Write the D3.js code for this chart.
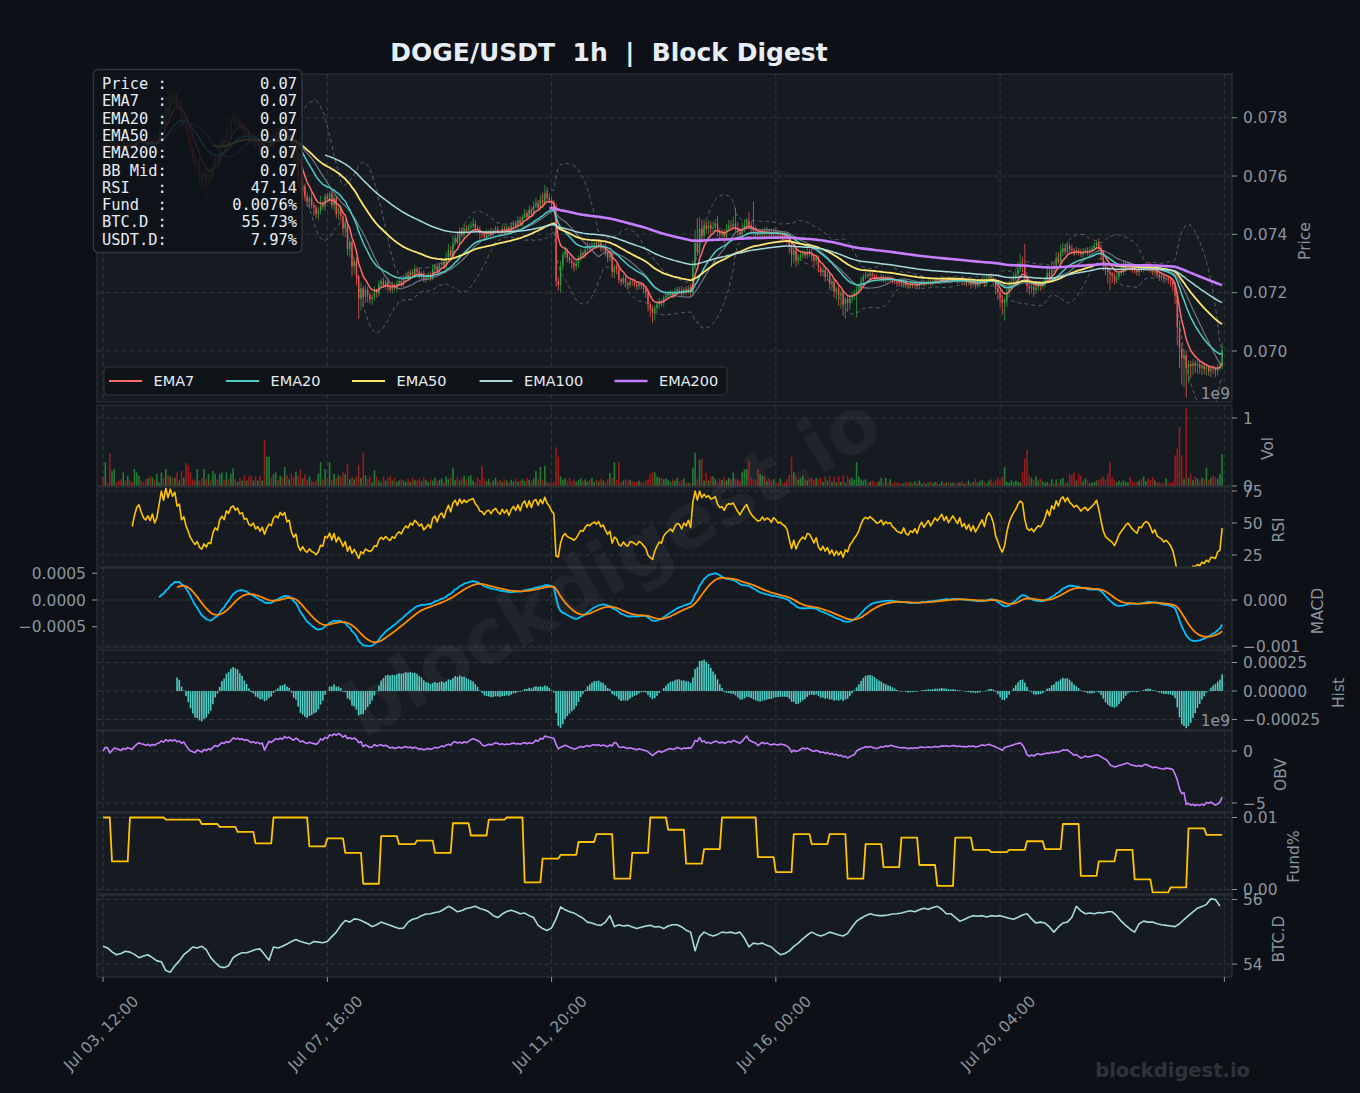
<!DOCTYPE html>
<html>
<head>
<meta charset="utf-8">
<script src="https://cdn.jsdelivr.net/npm/d3@7"></script>
<style>
  body { margin: 0; background: #0d1117; }
  text { font-family: "DejaVu Sans", sans-serif; }
  .mono { font-family: "DejaVu Sans Mono", monospace; white-space: pre; }
</style>
</head>
<body>
<svg id="chart" width="1360" height="1093"></svg>
<script>
// ---- data (hourly candles, index 0 = Jul 03 12:00) ----
// closes in 1e-5 USDT
const closeE5 = [
  7700, 7712, 7704, 7690, 7708, 7715, 7702, 7696, 7695, 7706, 7700, 7712, 7705, 7698, 7712, 7725, 7730, 7722, 7715, 7712,
  7718, 7712, 7722, 7710, 7718, 7745, 7790, 7775, 7835, 7815, 7870, 7852, 7880, 7838, 7850, 7790, 7805, 7762, 7730, 7692,
  7665, 7640, 7652, 7605, 7590, 7610, 7585, 7602, 7595, 7640, 7662, 7648, 7700, 7722, 7705, 7760, 7748, 7790, 7800, 7782,
  7795, 7770, 7778, 7748, 7752, 7725, 7718, 7730, 7702, 7712, 7690, 7705, 7670, 7695, 7712, 7705, 7738, 7750, 7742, 7768,
  7758, 7770, 7735, 7742, 7690, 7660, 7672, 7590, 7550, 7565, 7530, 7512, 7525, 7500, 7492, 7470, 7480, 7502, 7495, 7530,
  7522, 7540, 7500, 7525, 7470, 7490, 7462, 7420, 7440, 7350, 7372, 7290, 7310, 7255, 7180, 7215, 7185, 7210, 7192, 7178,
  7185, 7205, 7198, 7228, 7240, 7225, 7238, 7222, 7210, 7225, 7215, 7232, 7240, 7230, 7248, 7260, 7252, 7270, 7262, 7280,
  7272, 7260, 7266, 7245, 7252, 7262, 7250, 7282, 7290, 7272, 7296, 7305, 7290, 7320, 7345, 7325, 7370, 7388, 7372, 7412,
  7398, 7420, 7412, 7425, 7430, 7436, 7422, 7415, 7402, 7400, 7392, 7405, 7408, 7400, 7412, 7418, 7410, 7405, 7420, 7412,
  7422, 7410, 7428, 7438, 7430, 7448, 7436, 7460, 7472, 7458, 7485, 7470, 7498, 7505, 7492, 7518, 7508, 7540, 7525, 7518,
  7505, 7498, 7240, 7225, 7290, 7330, 7345, 7320, 7310, 7302, 7290, 7300, 7318, 7335, 7330, 7348, 7360, 7355, 7365, 7370,
  7362, 7372, 7352, 7358, 7338, 7320, 7330, 7270, 7290, 7280, 7245, 7238, 7250, 7232, 7225, 7238, 7236, 7228, 7222, 7230,
  7224, 7212, 7200, 7160, 7145, 7130, 7148, 7160, 7170, 7165, 7182, 7190, 7195, 7200, 7192, 7205, 7212, 7210, 7198, 7212,
  7205, 7218, 7200, 7290, 7370, 7340, 7420, 7395, 7430, 7418, 7432, 7420, 7425, 7438, 7412, 7400, 7405, 7392, 7420, 7430,
  7428, 7435, 7422, 7410, 7400, 7418, 7432, 7445, 7430, 7418, 7410, 7404, 7398, 7400, 7410, 7402, 7408, 7405, 7398, 7410,
  7405, 7398, 7400, 7395, 7392, 7385, 7360, 7330, 7345, 7310, 7322, 7330, 7335, 7328, 7340, 7338, 7325, 7310, 7320, 7285,
  7270, 7278, 7255, 7262, 7230, 7238, 7205, 7215, 7190, 7198, 7160, 7178, 7165, 7182, 7190, 7200, 7208, 7220, 7240, 7255,
  7262, 7258, 7265, 7260, 7255, 7248, 7250, 7256, 7245, 7252, 7248, 7250, 7242, 7238, 7232, 7230, 7228, 7236, 7225, 7222,
  7228, 7225, 7230, 7222, 7232, 7238, 7230, 7235, 7240, 7232, 7238, 7244, 7240, 7245, 7250, 7242, 7248, 7240, 7245, 7250,
  7245, 7240, 7248, 7236, 7240, 7232, 7238, 7228, 7235, 7225, 7230, 7236, 7242, 7232, 7248, 7255, 7250, 7240, 7215, 7200,
  7180, 7165, 7175, 7200, 7222, 7238, 7250, 7262, 7280, 7292, 7288, 7250, 7222, 7215, 7220, 7210, 7218, 7225, 7222, 7230,
  7245, 7268, 7255, 7290, 7282, 7318, 7305, 7340, 7352, 7340, 7362, 7350, 7345, 7338, 7345, 7340, 7332, 7340, 7345, 7338,
  7345, 7352, 7360, 7372, 7355, 7330, 7300, 7280, 7272, 7265, 7258, 7245, 7255, 7268, 7275, 7282, 7290, 7295, 7288, 7280,
  7275, 7270, 7282, 7280, 7288, 7292, 7290, 7282, 7270, 7275, 7262, 7258, 7255, 7248, 7250, 7245, 7238, 7225, 7190, 7080,
  7010, 6975, 6985, 6940, 6955, 6948, 6958, 6950, 6955, 6942, 6950, 6938, 6945, 6930, 6940, 6938, 6932, 6945, 6948, 7003
];
const firstOpenE5 = 7705;
// wick lengths above / below the candle body, 1e-5 USDT
const wickUpE5 = [
  12, 8, 15, 6, 10, 18, 7, 11, 9, 14, 6, 12, 8, 16, 10, 20, 9, 13, 7, 11,
  10, 15, 8, 22, 14, 18, 25, 30, 40, 55, 35, 20, 28, 12, 15, 9, 14, 7, 10, 12,
  8, 14, 6, 11, 9, 15, 7, 12, 18, 10, 14, 8, 20, 12, 16, 22, 10, 18, 25, 14,
  20, 9, 12, 7, 15, 10, 8, 13, 6, 18, 9, 11, 14, 22, 16, 10, 19, 12, 15, 8,
  14, 10, 7, 12, 9, 6, 11, 8, 15, 20, 9, 13, 7, 25, 10, 8, 12, 30, 14, 10,
  12, 8, 15, 10, 7, 13, 9, 6, 11, 8, 14, 7, 10, 12, 8, 20, 9, 15, 11, 7,
  10, 18, 9, 14, 8, 12, 6, 11, 9, 13, 7, 10, 15, 8, 12, 9, 14, 11, 7, 16,
  9, 12, 8, 10, 14, 7, 11, 15, 9, 12, 8, 13, 10, 18, 22, 15, 25, 12, 20, 14,
  10, 16, 12, 9, 14, 20, 11, 8, 13, 7, 10, 12, 9, 15, 8, 11, 10, 7, 12, 9,
  11, 8, 13, 10, 9, 14, 12, 8, 15, 10, 13, 9, 16, 20, 12, 18, 25, 30, 22, 15,
  10, 12, 8, 14, 18, 10, 12, 7, 9, 11, 8, 13, 10, 15, 9, 12, 14, 10, 11, 8,
  9, 7, 10, 8, 12, 6, 9, 11, 7, 10, 8, 6, 12, 9, 7, 10, 8, 11, 6, 9,
  8, 10, 7, 12, 9, 11, 8, 10, 13, 7, 9, 12, 8, 10, 7, 11, 9, 8, 12, 7,
  10, 8, 12, 20, 45, 85, 40, 30, 22, 15, 18, 12, 20, 15, 25, 10, 14, 12, 16, 20,
  18, 25, 55, 20, 14, 22, 18, 12, 30, 15, 95, 20, 12, 15, 10, 13, 18, 9, 12, 10,
  14, 10, 12, 9, 15, 11, 8, 14, 10, 12, 9, 15, 11, 8, 13, 10, 12, 9, 11, 8,
  9, 12, 8, 10, 7, 11, 9, 6, 10, 8, 12, 7, 9, 11, 8, 10, 14, 12, 15, 10,
  8, 6, 9, 7, 5, 8, 6, 9, 5, 7, 6, 8, 5, 7, 6, 5, 8, 6, 7, 5,
  6, 5, 7, 4, 8, 6, 5, 7, 6, 4, 8, 5, 7, 6, 9, 5, 7, 6, 8, 5,
  5, 7, 6, 8, 4, 6, 9, 5, 7, 6, 8, 10, 12, 7, 15, 9, 11, 6, 8, 10,
  9, 12, 8, 15, 18, 12, 20, 14, 25, 40, 30, 80, 20, 12, 10, 8, 14, 10, 9, 12,
  10, 15, 12, 18, 14, 20, 22, 25, 18, 15, 12, 10, 14, 9, 12, 8, 10, 13, 9, 11,
  12, 10, 14, 8, 15, 10, 12, 8, 9, 11, 7, 10, 12, 9, 20, 30, 18, 12, 10, 8,
  9, 12, 8, 10, 7, 11, 9, 12, 8, 10, 7, 9, 8, 10, 6, 9, 7, 8, 10, 12,
  25, 18, 20, 15, 12, 10, 14, 9, 12, 10, 8, 11, 9, 7, 10, 12, 8, 10, 14, 22
];
const wickDnE5 = [
  10, 14, 7, 12, 9, 16, 8, 11, 13, 6, 10, 15, 9, 12, 7, 10, 14, 8, 11, 9,
  12, 8, 10, 14, 9, 11, 7, 10, 12, 8, 15, 10, 18, 14, 20, 16, 22, 18, 25, 20,
  18, 22, 15, 25, 40, 30, 55, 20, 15, 12, 10, 14, 9, 12, 8, 11, 10, 14, 9, 12,
  10, 14, 12, 16, 10, 13, 9, 18, 12, 10, 20, 14, 25, 12, 10, 9, 12, 8, 11, 10,
  12, 9, 15, 11, 18, 14, 20, 25, 22, 30, 15, 18, 25, 12, 28, 15, 20, 12, 10, 14,
  10, 15, 12, 18, 14, 20, 16, 25, 30, 22, 28, 35, 25, 30, 70, 40, 35, 20, 25, 15,
  20, 12, 15, 10, 14, 9, 12, 16, 10, 13, 8, 11, 9, 12, 10, 8, 11, 9, 12, 8,
  10, 12, 14, 9, 11, 8, 10, 7, 12, 9, 8, 10, 7, 9, 11, 8, 10, 9, 7, 10,
  9, 11, 8, 10, 12, 9, 14, 10, 25, 12, 15, 10, 9, 12, 8, 10, 9, 11, 8, 10,
  9, 8, 10, 7, 9, 11, 8, 10, 7, 9, 8, 10, 9, 8, 11, 10, 9, 8, 12, 10,
  12, 15, 20, 18, 25, 14, 12, 16, 10, 20, 18, 12, 15, 10, 14, 12, 9, 11, 10, 8,
  10, 9, 12, 11, 14, 16, 12, 18, 20, 15, 12, 14, 10, 12, 15, 10, 12, 9, 14, 11,
  12, 15, 18, 25, 30, 35, 25, 18, 15, 12, 14, 10, 12, 9, 11, 10, 8, 12, 10, 9,
  12, 10, 14, 9, 12, 15, 20, 25, 18, 14, 16, 20, 12, 15, 20, 18, 14, 22, 12, 10,
  14, 10, 12, 16, 18, 12, 10, 14, 12, 20, 15, 12, 18, 14, 10, 15, 12, 18, 14, 10,
  12, 14, 10, 15, 12, 18, 25, 40, 30, 22, 15, 12, 14, 10, 12, 15, 18, 20, 14, 16,
  15, 12, 18, 14, 20, 25, 22, 30, 35, 45, 40, 50, 30, 25, 18, 15, 85, 12, 10, 14,
  10, 8, 12, 9, 11, 8, 10, 12, 9, 11, 8, 10, 12, 9, 11, 10, 8, 12, 9, 10,
  8, 10, 7, 9, 11, 8, 10, 7, 9, 8, 10, 9, 7, 8, 10, 9, 8, 7, 9, 8,
  9, 10, 8, 12, 9, 11, 8, 14, 10, 12, 9, 11, 8, 13, 10, 9, 12, 15, 20, 25,
  30, 40, 60, 25, 15, 12, 10, 14, 12, 10, 18, 15, 20, 22, 18, 25, 14, 12, 15, 10,
  12, 10, 14, 9, 12, 10, 8, 11, 14, 9, 12, 15, 10, 13, 9, 12, 10, 14, 9, 11,
  10, 12, 9, 11, 14, 18, 25, 20, 40, 55, 25, 18, 14, 12, 10, 15, 12, 10, 14, 12,
  10, 12, 14, 9, 11, 10, 12, 14, 10, 15, 12, 18, 14, 16, 12, 15, 18, 20, 30, 60,
  70, 90, 100, 100, 50, 40, 30, 25, 28, 20, 25, 18, 22, 15, 20, 18, 22, 15, 12, 10
];
// volume in 1e7 DOGE
const volE7 = [
  14, 35, 5, 48, 22, 25, 6, 8, 10, 20, 8, 15, 8, 6, 25, 20, 15, 8, 6, 10,
  11, 15, 13, 9, 18, 5, 20, 12, 25, 16, 14, 12, 12, 20, 8, 22, 12, 34, 30, 20,
  10, 8, 25, 8, 12, 25, 10, 18, 9, 22, 18, 10, 18, 20, 9, 20, 10, 18, 26, 10,
  6, 12, 8, 16, 8, 14, 15, 8, 14, 8, 15, 8, 68, 43, 43, 12, 17, 20, 9, 15,
  13, 28, 16, 10, 18, 12, 21, 15, 24, 11, 17, 9, 14, 8, 6, 8, 18, 35, 10, 25,
  11, 35, 9, 18, 12, 16, 14, 20, 17, 33, 10, 13, 10, 15, 31, 12, 49, 16, 10, 14,
  5, 23, 14, 8, 5, 14, 8, 12, 15, 8, 12, 6, 8, 10, 8, 6, 10, 6, 12, 9,
  8, 11, 7, 13, 9, 6, 10, 8, 12, 7, 9, 11, 6, 14, 10, 12, 27, 9, 13, 8,
  11, 15, 10, 14, 16, 8, 6, 13, 9, 30, 11, 7, 10, 6, 8, 12, 7, 9, 6, 10,
  8, 5, 9, 7, 11, 6, 8, 10, 7, 12, 9, 8, 11, 22, 10, 28, 9, 30, 6, 5,
  5, 6, 57, 43, 14, 9, 11, 8, 12, 7, 10, 6, 9, 11, 8, 10, 7, 9, 12, 6,
  9, 7, 11, 8, 6, 10, 19, 12, 35, 9, 35, 6, 8, 10, 8, 9, 7, 6, 6, 8,
  6, 5, 8, 10, 18, 20, 20, 14, 12, 12, 10, 11, 9, 6, 10, 8, 12, 7, 9, 11,
  4, 5, 4, 27, 49, 10, 38, 41, 8, 20, 8, 14, 14, 10, 7, 11, 9, 13, 8, 12,
  10, 20, 10, 10, 8, 20, 25, 25, 38, 13, 10, 8, 25, 18, 15, 14, 7, 11, 8, 10,
  6, 5, 11, 5, 6, 10, 16, 43, 20, 14, 9, 12, 15, 10, 8, 11, 13, 9, 12, 10,
  12, 6, 14, 8, 15, 6, 14, 6, 14, 6, 16, 5, 15, 10, 12, 9, 35, 14, 10, 8,
  10, 5, 6, 8, 6, 5, 7, 12, 6, 12, 5, 10, 4, 6, 5, 5, 4, 4, 6, 5,
  6, 4, 7, 5, 8, 4, 6, 3, 5, 7, 4, 6, 5, 3, 7, 4, 5, 6, 4, 5,
  4, 6, 5, 7, 3, 5, 8, 4, 6, 11, 5, 7, 9, 6, 4, 8, 10, 6, 9, 12,
  8, 14, 28, 6, 5, 8, 6, 8, 6, 5, 20, 40, 53, 16, 12, 9, 14, 8, 11, 7,
  5, 6, 4, 10, 4, 10, 4, 10, 12, 4, 5, 18, 16, 20, 8, 18, 15, 7, 11, 9,
  4, 5, 6, 8, 9, 11, 14, 10, 18, 35, 13, 9, 6, 8, 5, 8, 6, 5, 13, 7,
  5, 6, 8, 10, 14, 7, 11, 9, 13, 8, 6, 6, 5, 4, 11, 4, 5, 6, 45, 55,
  87, 45, 10, 115, 12, 18, 9, 14, 11, 8, 12, 10, 27, 9, 12, 16, 13, 11, 18, 47
];
// funding rate (%) per 8h settlement block; block 0 = first 4 hours
const fundingBlocks = [
  0.0100, 0.0039, 0.0100, 0.0100, 0.0097, 0.0097, 0.0091, 0.0087, 0.0080, 0.0064,
  0.0100, 0.0100, 0.0060, 0.0071, 0.0051, 0.0008, 0.0074, 0.0063, 0.0068, 0.0051,
  0.0092, 0.0075, 0.0097, 0.0100, 0.0010, 0.0043, 0.0048, 0.0066, 0.0077, 0.0015,
  0.0051, 0.0100, 0.0083, 0.0036, 0.0056, 0.0100, 0.0100, 0.0045, 0.0024, 0.0077,
  0.0063, 0.0077, 0.0015, 0.0063, 0.0031, 0.0072, 0.0034, 0.0005, 0.0072, 0.0055,
  0.0052, 0.0055, 0.0067, 0.0056, 0.0091, 0.0019, 0.0039, 0.0055, 0.0014, -0.0004,
  0.0003, 0.0085, 0.0076
];
// BTC dominance (%), every 2 hours
const btcDom = [
  54.55, 54.50, 54.38, 54.29, 54.33, 54.40, 54.37, 54.30, 54.20, 54.25, 54.29, 54.20, 54.10, 54.07, 53.80, 53.75, 53.95, 54.10, 54.29, 54.40, 54.53, 54.50, 54.55, 54.45, 54.20,
  54.05, 53.92, 53.89, 53.95, 54.20, 54.29, 54.35, 54.35, 54.40, 54.45, 54.47, 54.30, 54.12, 54.53, 54.50, 54.55, 54.62, 54.70, 54.76, 54.70, 54.66, 54.62, 54.70, 54.68, 54.66,
  54.70, 54.85, 54.99, 55.20, 55.35, 55.30, 55.40, 55.38, 55.32, 55.25, 55.16, 55.22, 55.30, 55.25, 55.20, 55.15, 55.10, 55.12, 55.30, 55.39, 55.42, 55.50, 55.55, 55.56, 55.60,
  55.62, 55.70, 55.79, 55.72, 55.62, 55.66, 55.72, 55.75, 55.79, 55.72, 55.68, 55.62, 55.50, 55.44, 55.55, 55.63, 55.67, 55.62, 55.56, 55.58, 55.50, 55.44, 55.20, 55.10, 55.04,
  55.12, 55.40, 55.77, 55.68, 55.62, 55.58, 55.50, 55.42, 55.30, 55.27, 55.22, 55.20, 55.30, 55.50, 55.16, 55.22, 55.18, 55.20, 55.15, 55.10, 55.14, 55.18, 55.20, 55.15, 55.16,
  55.10, 55.18, 55.22, 55.22, 55.15, 55.05, 54.99, 54.41, 54.85, 54.99, 54.92, 54.87, 54.92, 54.99, 54.97, 54.99, 54.95, 54.99, 54.80, 54.53, 54.65, 54.62, 54.65, 54.58, 54.53,
  54.40, 54.29, 54.33, 54.41, 54.55, 54.65, 54.78, 54.90, 54.99, 54.92, 54.87, 54.92, 54.99, 54.95, 54.90, 54.87, 54.95, 55.15, 55.33, 55.42, 55.50, 55.56, 55.52, 55.50, 55.50,
  55.52, 55.55, 55.56, 55.58, 55.62, 55.65, 55.62, 55.68, 55.73, 55.70, 55.75, 55.79, 55.70, 55.56, 55.56, 55.45, 55.33, 55.38, 55.45, 55.50, 55.48, 55.50, 55.46, 55.50, 55.48,
  55.50, 55.46, 55.42, 55.39, 55.45, 55.52, 55.56, 55.40, 55.27, 55.30, 55.27, 55.15, 54.99, 55.15, 55.27, 55.30, 55.45, 55.79, 55.65, 55.56, 55.58, 55.56, 55.60, 55.58, 55.62,
  55.62, 55.50, 55.33, 55.20, 55.08, 54.99, 55.25, 55.33, 55.30, 55.30, 55.25, 55.22, 55.20, 55.18, 55.16, 55.25, 55.38, 55.50, 55.62, 55.73, 55.78, 55.85, 56.02, 56.00, 55.80
];
const xTickIdx = [0, 100, 200, 300, 400, 500];
const xTickLabels = ['Jul 03, 12:00', 'Jul 07, 16:00', 'Jul 11, 20:00', 'Jul 16, 00:00', 'Jul 20, 04:00', ''];
const infoLabels = ['Price :', 'EMA7  :', 'EMA20 :', 'EMA50 :', 'EMA200:', 'BB Mid:', 'RSI   :', 'Fund  :', 'BTC.D :', 'USDT.D:'];
const infoValues = ['0.07', '0.07', '0.07', '0.07', '0.07', '0.07', '47.14', '0.0076%', '55.73%', '7.97%'];
const emaSpans = [7, 20, 50, 100, 200];
const emaColors = ['#ff6b6b', '#4ecdc4', '#ffe66d', '#a8dadc', '#c77dff'];

// ---- derived series, as the original indicator code would build them ----
const close = closeE5.map(v => v / 1e5);
const vol = volE7.map(v => v * 1e7);
const candles = closeE5.map((c, i) => {
  const o = i ? closeE5[i - 1] : firstOpenE5;
  return { i, o: o / 1e5, c: c / 1e5,
    h: (Math.max(o, c) + wickUpE5[i]) / 1e5, l: (Math.min(o, c) - wickDnE5[i]) / 1e5 };
});

function ema(arr, span, minP) {
  const a = 2 / (span + 1);
  let prev = null, n = 0;
  return arr.map(v => {
    if (v == null) return null;
    prev = prev == null ? v : a * v + (1 - a) * prev;
    n++;
    return n >= minP ? prev : null;
  });
}
const emas = emaSpans.map(s => ema(close, s, s));
const bb = close.map((c, i) => {
  if (i < 19) return null;
  const w = close.slice(i - 19, i + 1), m = d3.mean(w), s = d3.deviation(w);
  return { mid: m, up: m + 2 * s, lo: m - 2 * s };
});
// RSI, Wilder weights (1/14), weighted over the whole history
let gSum = 0, lSum = 0;
const rsi = close.map((c, i) => {
  if (i === 0) return null;
  const d = c - close[i - 1];
  gSum = Math.max(d, 0) + gSum * 13 / 14;
  lSum = Math.max(-d, 0) + lSum * 13 / 14;
  return i < 13 ? null : 100 - 100 / (1 + gSum / lSum);
});
const ema12 = ema(close, 12, 12), ema26 = ema(close, 26, 26);
const macd = close.map((c, i) => ema26[i] == null ? null : ema12[i] - ema26[i]);
const signal = ema(macd, 9, 9);
const hist = macd.map((m, i) => signal[i] == null ? null : m - signal[i]);
let acc = 0;
const obv = close.map((c, i) => {
  if (i > 0) acc += c > close[i - 1] ? vol[i] : c < close[i - 1] ? -vol[i] : 0;
  return acc;
});
const funding = close.map((c, i) => fundingBlocks[i < 4 ? 0 : Math.floor((i - 4) / 8) + 1]);

// ---- layout ----
const svg = d3.select('#chart');
const left = 97, right = 1232;
const gridColor = '#30363d', tickColor = '#8b949e', panelBg = '#161b22';
const x = d3.scaleLinear().domain([-2.7, 503.4]).range([left, right]);

svg.append('rect').attr('width', 1360).attr('height', 1093).attr('fill', '#0d1117');

const panels = [
  { name: 'Price', top: 74, bottom: 402, domain: [0.06825, 0.0795], ticks: [0.070, 0.072, 0.074, 0.076, 0.078], fmt: d3.format('.3f'), lx: 1305 },
  { name: 'Vol', top: 405, bottom: 486, domain: [0, 1.191e9], ticks: [0, 1e9], fmt: v => d3.format('d')(v / 1e9), lx: 1268 },
  { name: 'RSI', top: 487, bottom: 567, domain: [15.6, 78.1], ticks: [25, 50, 75], fmt: d3.format('d'), lx: 1279 },
  { name: 'MACD', top: 568, bottom: 648, domain: [-0.001043, 0.000696], ticks: [0, -0.001], fmt: d3.format('.3f'), lx: 1318 },
  { name: 'Hist', top: 650, bottom: 730, domain: [-0.000342, 0.00036], ticks: [0.00025, 0, -0.00025], fmt: d3.format('.5f'), lx: 1339 },
  { name: 'OBV', top: 731, bottom: 812, domain: [-5.865e9, 1.923e9], ticks: [0, -5e9], fmt: v => d3.format('d')(v / 1e9), lx: 1281 },
  { name: 'Fund%', top: 813, bottom: 894, domain: [-0.000625, 0.010625], ticks: [0.01, 0], fmt: d3.format('.2f'), lx: 1294 },
  { name: 'BTC.D', top: 895, bottom: 977, domain: [53.6, 56.14], ticks: [54, 56], fmt: d3.format('d'), lx: 1279 }
];

const defs = svg.append('defs');
panels.forEach((p, k) => {
  p.y = d3.scaleLinear().domain(p.domain).range([p.bottom, p.top]);
  defs.append('clipPath').attr('id', 'clip' + k).append('rect')
    .attr('x', left).attr('y', p.top).attr('width', right - left).attr('height', p.bottom - p.top);
  svg.append('rect')
    .attr('x', left).attr('y', p.top).attr('width', right - left).attr('height', p.bottom - p.top)
    .attr('fill', panelBg);
  // grid
  const grid = svg.append('g').attr('clip-path', `url(#clip${k})`)
    .attr('stroke', gridColor).attr('stroke-width', 1).attr('stroke-dasharray', '5 3');
  p.ticks.forEach(t => grid.append('line')
    .attr('x1', left).attr('x2', right).attr('y1', p.y(t)).attr('y2', p.y(t)));
  xTickIdx.forEach(t => grid.append('line')
    .attr('x1', x(t)).attr('x2', x(t)).attr('y1', p.top).attr('y2', p.bottom));
  p.g = svg.append('g').attr('clip-path', `url(#clip${k})`);
});
const [pPrice, pVol, pRsi, pMacd, pHist, pObv, pFund, pBtc] = panels;

function drawLine(p, values, color, width, dash, xs, opacity) {
  const pts = values.map((v, i) => [xs ? xs[i] : i, v]);
  p.g.append('path')
    .datum(pts)
    .attr('fill', 'none')
    .attr('stroke', color)
    .attr('stroke-width', width)
    .attr('stroke-opacity', opacity || 1)
    .attr('stroke-dasharray', dash || null)
    .attr('stroke-linejoin', 'round')
    .attr('d', d3.line().defined(d => d[1] != null).x(d => x(d[0])).y(d => p.y(d[1])));
}

// ---- price panel ----
drawLine(pPrice, bb.map(b => b && b.up), '#8b949e', 1, '4 3', null, 0.55);
drawLine(pPrice, bb.map(b => b && b.lo), '#8b949e', 1, '4 3', null, 0.55);

const upColor = '#2ea043', downColor = '#f0524f';
pPrice.g.selectAll('line.wick')
  .data(candles)
  .enter()
  .append('line')
  .attr('class', 'wick')
  .attr('x1', d => x(d.i)).attr('x2', d => x(d.i))
  .attr('y1', d => pPrice.y(d.h)).attr('y2', d => pPrice.y(d.l))
  .attr('stroke', d => d.c >= d.o ? upColor : downColor)
  .attr('stroke-width', 0.8);
pPrice.g.selectAll('rect.body')
  .data(candles)
  .enter()
  .append('rect')
  .attr('class', 'body')
  .attr('x', d => x(d.i) - 0.7)
  .attr('width', 1.4)
  .attr('y', d => pPrice.y(Math.max(d.o, d.c)))
  .attr('height', d => Math.max(0.6, Math.abs(pPrice.y(d.o) - pPrice.y(d.c))))
  .attr('fill', d => d.c >= d.o ? upColor : downColor);

drawLine(pPrice, bb.map(b => b && b.mid), '#6e7681', 1.2);
emas.forEach((e, k) => drawLine(pPrice, e, emaColors[k], k === 4 ? 2.6 : (k === 2 ? 1.8 : 1.5)));

// ---- volume ----
pVol.g.selectAll('rect')
  .data(candles)
  .enter()
  .append('rect')
  .attr('x', d => x(d.i) - 0.8)
  .attr('width', 1.6)
  .attr('y', d => pVol.y(vol[d.i]))
  .attr('height', d => pVol.y(0) - pVol.y(vol[d.i]))
  .attr('fill', d => d.c >= d.o ? '#238636' : '#a31d1d')
  .attr('fill-opacity', 0.9);

// ---- RSI / MACD / hist / OBV / funding / BTC.D ----
drawLine(pRsi, rsi, '#ffc300', 1.6);
drawLine(pMacd, macd, '#00bfff', 1.8);
drawLine(pMacd, signal, '#ff8c00', 1.8);
pHist.g.selectAll('rect')
  .data(hist.map((h, i) => [i, h]).filter(d => d[1] != null))
  .enter()
  .append('rect')
  .attr('x', d => x(d[0]) - 0.8)
  .attr('width', 1.6)
  .attr('y', d => Math.min(pHist.y(d[1]), pHist.y(0)))
  .attr('height', d => Math.abs(pHist.y(d[1]) - pHist.y(0)))
  .attr('fill', '#4ecdc4');
drawLine(pObv, obv, '#c77dff', 1.6);
drawLine(pFund, funding, '#ffc300', 1.8);
drawLine(pBtc, btcDom, '#a8dadc', 1.6, null, btcDom.map((v, k) => k * 2));

// ---- frames, ticks, labels ----
panels.forEach(p => {
  svg.append('rect')
    .attr('x', left).attr('y', p.top).attr('width', right - left).attr('height', p.bottom - p.top)
    .attr('fill', 'none').attr('stroke', gridColor).attr('stroke-width', 1);
  p.ticks.forEach(t => {
    svg.append('line')
      .attr('x1', right).attr('x2', right + 5).attr('y1', p.y(t)).attr('y2', p.y(t))
      .attr('stroke', tickColor).attr('stroke-width', 1);
    svg.append('text')
      .attr('x', right + 11).attr('y', p.y(t)).attr('dy', '0.36em')
      .attr('fill', tickColor).attr('font-size', '15.5px')
      .text(p.fmt(t));
  });
  svg.append('text')
    .attr('transform', `translate(${p.lx},${(p.top + p.bottom) / 2 + 3}) rotate(-90)`)
    .attr('text-anchor', 'middle').attr('dy', '0.35em')
    .attr('fill', tickColor).attr('font-size', '15.5px')
    .text(p.name);
});
// left-side MACD axis
const macdLeft = d3.scaleLinear().domain([-0.000897, 0.000598]).range([pMacd.bottom, pMacd.top]);
[0.0005, 0, -0.0005].forEach(t => {
  svg.append('line')
    .attr('x1', left - 5).attr('x2', left).attr('y1', macdLeft(t)).attr('y2', macdLeft(t))
    .attr('stroke', tickColor);
  svg.append('text')
    .attr('x', left - 11).attr('y', macdLeft(t)).attr('dy', '0.36em')
    .attr('text-anchor', 'end').attr('fill', tickColor).attr('font-size', '15.5px')
    .text(d3.format('.4f')(t));
});
// offset texts
[[399, '1e9'], [726, '1e9']].forEach(([yy, t]) => svg.append('text')
  .attr('x', 1230).attr('y', yy).attr('text-anchor', 'end')
  .attr('fill', tickColor).attr('font-size', '15.5px').text(t));

// x axis
xTickIdx.forEach((t, k) => {
  svg.append('line')
    .attr('x1', x(t)).attr('x2', x(t)).attr('y1', 977).attr('y2', 982)
    .attr('stroke', tickColor);
  svg.append('text')
    .attr('transform', `translate(${x(t) - 2},1033) rotate(-45)`)
    .attr('text-anchor', 'middle').attr('dy', '0.35em')
    .attr('fill', tickColor).attr('font-size', '15.5px')
    .text(xTickLabels[k]);
});

// title
svg.append('text')
  .attr('x', 609).attr('y', 61)
  .attr('text-anchor', 'middle')
  .attr('fill', '#e6edf3').attr('font-size', '25px').attr('font-weight', 'bold')
  .style('white-space', 'pre')
  .text('DOGE/USDT  1h  |  Block Digest');

// legend
const legend = svg.append('g');
legend.append('rect')
  .attr('x', 104).attr('y', 367).attr('width', 623).attr('height', 28).attr('rx', 4)
  .attr('fill', '#0d1117').attr('fill-opacity', 0.8).attr('stroke', gridColor);
const legendX = [109, 226, 352, 479.5, 614.5];
emaSpans.forEach((s, k) => {
  legend.append('line')
    .attr('x1', legendX[k]).attr('x2', legendX[k] + 33).attr('y1', 381).attr('y2', 381)
    .attr('stroke', emaColors[k]).attr('stroke-width', k === 4 ? 2.6 : 2);
  legend.append('text')
    .attr('x', legendX[k] + 44.5).attr('y', 381).attr('dy', '0.36em')
    .attr('fill', '#e6edf3').attr('font-size', '14.5px')
    .text('EMA' + s);
});

// info box
const info = svg.append('g');
info.append('rect')
  .attr('x', 93.5).attr('y', 69.5).attr('width', 208.5).attr('height', 183).attr('rx', 5)
  .attr('fill', '#0d1117').attr('fill-opacity', 0.85).attr('stroke', gridColor).attr('stroke-width', 1.5);
infoLabels.forEach((lab, k) => {
  info.append('text').attr('class', 'mono')
    .attr('x', 102).attr('y', 89 + k * 17.3)
    .attr('fill', '#e6edf3').attr('font-size', '15.4px').text(lab);
  info.append('text').attr('class', 'mono')
    .attr('x', 297).attr('y', 89 + k * 17.3).attr('text-anchor', 'end')
    .attr('fill', '#e6edf3').attr('font-size', '15.4px').text(infoValues[k]);
});

// watermarks
svg.append('text')
  .attr('transform', 'translate(612,565) rotate(-30)')
  .attr('text-anchor', 'middle').attr('dy', '0.35em')
  .attr('fill', '#ffffff').attr('fill-opacity', 0.045)
  .attr('font-size', '76px').attr('font-weight', 'bold')
  .text('blockdigest.io');
svg.append('text')
  .attr('x', 1250).attr('y', 1077).attr('text-anchor', 'end')
  .attr('fill', '#2d333b').attr('font-size', '19.5px').attr('font-weight', 'bold')
  .text('blockdigest.io');
</script>
</body>
</html>
